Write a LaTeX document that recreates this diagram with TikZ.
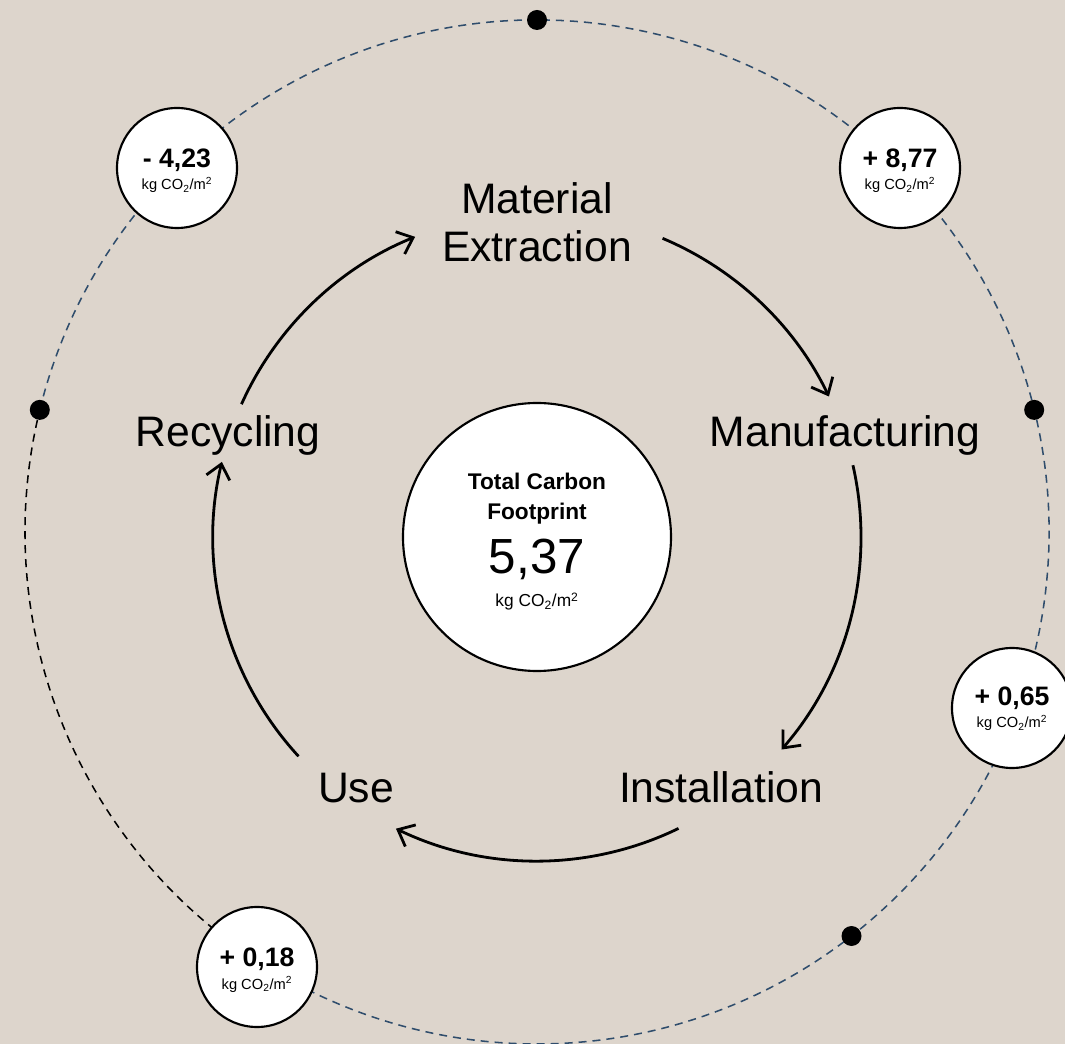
\documentclass[tikz,border=0pt]{standalone}
\usepackage{fontspec}
\setmainfont{Liberation Sans}
\usetikzlibrary{arrows.meta}
\definecolor{bg}{HTML}{DDD5CC}
\definecolor{ringblue}{HTML}{2F4D6C}
\begin{document}
\begin{tikzpicture}[x=0.75pt,y=-0.75pt,
  ring/.style={dash pattern=on 6pt off 4.5pt, line width=1.15pt},
  flow/.style={line width=2.1pt, -{Straight Barb[length=10.5pt,width=18pt,line width=2.1pt]}},
  dot/.style={circle, fill=black, minimum size=15pt, inner sep=0pt},
  badge/.style={circle, draw=black, line width=1.6pt, fill=white, minimum size=90pt, inner sep=0pt},
  hub/.style={circle, draw=black, line width=1.6pt, fill=white, minimum size=201pt, inner sep=0pt},
  stage/.style={font=\fontsize{32}{38}\selectfont, anchor=base, inner sep=0pt},
  val/.style={font=\bfseries\fontsize{20}{23}\selectfont, anchor=base, inner sep=0pt},
  unit/.style={font=\fontsize{11}{13}\selectfont, anchor=base, inner sep=0pt},
]
\fill[bg] (0,0) rectangle (1065,1044);
\useasboundingbox (0,0) rectangle (1065,1044);

% outer dashed ring
\coordinate (O) at (537,532);
\draw[ring, ringblue] ([shift={(193.8:512)}]O) arc[start angle=193.8, end angle=482.8, radius=512];
\draw[ring, black] ([shift={(122.8:512)}]O) arc[start angle=122.8, end angle=193.8, radius=512];

% dots on ring
\node[dot] (dtop) at ([shift={(-90:512)}]O) {};
\node[dot] (dleft) at ([shift={(193.8:512)}]O) {};
\node[dot] (dright) at ([shift={(-13.8:512)}]O) {};
\node[dot] (dbr) at ([shift={(52.1:512)}]O) {};

% badges
\node[badge] (b1) at (177,168) {};
\node[val] (b1v) at (177,168) {- 4,23};
\node[unit] (b1u) at (177,190) {kg CO\textsubscript{2}/m\textsuperscript{2}};

\node[badge] (b2) at (900,168) {};
\node[val] (b2v) at (900,168) {+ 8,77};
\node[unit] (b2u) at (900,190) {kg CO\textsubscript{2}/m\textsuperscript{2}};

\node[badge] (b3) at (1012,708) {};
\node[val] (b3v) at (1012,706) {+ 0,65};
\node[unit] (b3u) at (1012,728) {kg CO\textsubscript{2}/m\textsuperscript{2}};

\node[badge] (b4) at (257,967) {};
\node[val] (b4v) at (257,966) {+ 0,18};
\node[unit] (b4u) at (257,989) {kg CO\textsubscript{2}/m\textsuperscript{2}};

% hub
\node[hub] (hub) at (537,537) {};
\node[font=\bfseries\fontsize{17}{20}\selectfont, anchor=base, inner sep=0pt] (t1) at (537,490) {Total Carbon};
\node[font=\bfseries\fontsize{17}{20}\selectfont, anchor=base, inner sep=0pt] (t2) at (537,520) {Footprint};
\node[font=\fontsize{37}{40}\selectfont, anchor=base, inner sep=0pt] (t3) at (537,574) {5,37};
\node[font=\fontsize{13}{15}\selectfont, anchor=base, inner sep=0pt] (t4) at (537,607) {kg CO\textsubscript{2}/m\textsuperscript{2}};

% stages
\node[stage] (me1) at (537,214) {Material};
\node[stage] (me2) at (537,262) {Extraction};
\node[stage] (mf) at (845,447) {Manufacturing};
\node[stage] (rc) at (228,447) {Recycling};
\node[stage] (ins) at (721,802) {Installation};
\node[stage] (use) at (356,802) {Use};

% cycle arrows
\coordinate (C) at (537,537);
\draw[flow] ([shift={(-67.2:324)}]C) arc[start angle=-67.2, end angle=-25.7, radius=324];
\draw[flow] ([shift={(-12.8:324)}]C) arc[start angle=-12.8, end angle=41, radius=324];
\draw[flow] ([shift={(64.1:324)}]C) arc[start angle=64.1, end angle=115.8, radius=324];
\draw[flow] ([shift={(137.4:324)}]C) arc[start angle=137.4, end angle=193.4, radius=324];
\draw[flow] ([shift={(204.2:324)}]C) arc[start angle=204.2, end angle=247.9, radius=324];
\end{tikzpicture}
\end{document}
